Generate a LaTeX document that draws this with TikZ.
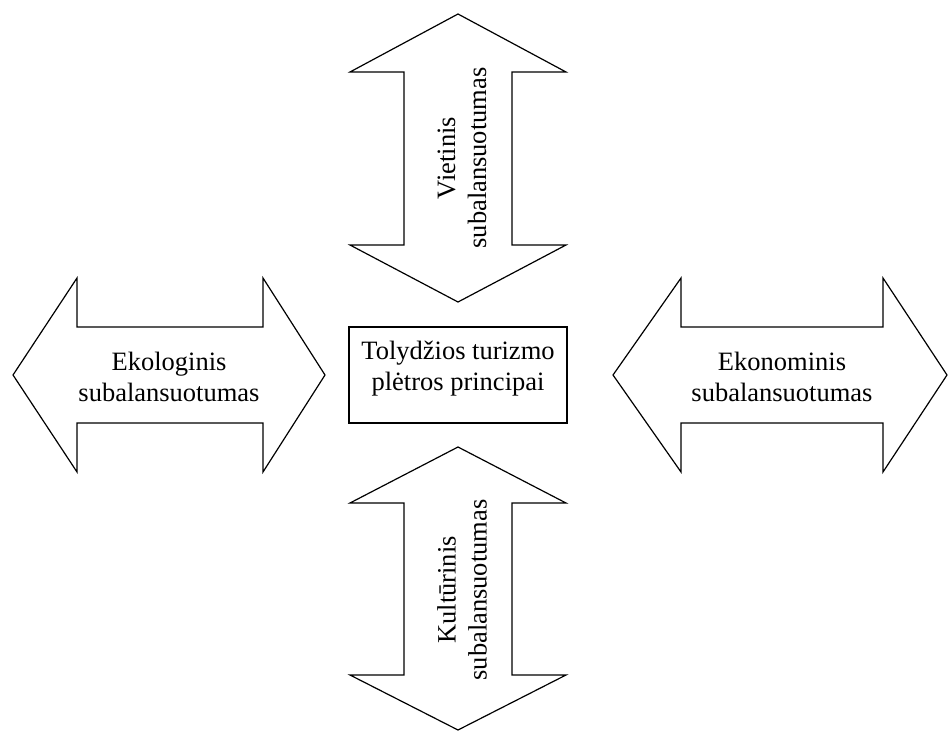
\documentclass[tikz,border=0pt]{standalone}
\usepackage{fontspec}
\setmainfont{Liberation Serif}
\begin{document}
\begin{tikzpicture}[x=1bp,y=-1bp,
  bigarrow/.style={draw=black,line width=1.2bp,line join=miter,fill=white},
  lbl/.style={align=center,inner sep=0pt,font=\fontsize{26.5bp}{31bp}\selectfont},
  centerbox/.style={draw=black,line width=1.9bp,minimum width=218bp,minimum height=96bp,inner sep=0pt}]
\useasboundingbox (0,0) rectangle (949,731);
% top arrow
\draw[bigarrow] (458,14) -- (566,72) -- (512,72) -- (512,245) -- (566,245) -- (458,302)
  -- (350,245) -- (404,245) -- (404,72) -- (350,72) -- cycle;
% bottom arrow
\draw[bigarrow] (458,447) -- (566,503) -- (512,503) -- (512,675) -- (566,675) -- (458,730)
  -- (350,675) -- (404,675) -- (404,503) -- (350,503) -- cycle;
% left arrow
\draw[bigarrow] (13,375) -- (77,278) -- (77,327) -- (263,327) -- (263,278) -- (325,375)
  -- (263,472) -- (263,423) -- (77,423) -- (77,472) -- cycle;
% right arrow
\draw[bigarrow] (613,375) -- (681,278) -- (681,327) -- (883,327) -- (883,278) -- (947,375)
  -- (883,472) -- (883,423) -- (681,423) -- (681,472) -- cycle;
% labels
\node[lbl,rotate=90] (viet) at (462,158) {Vietinis\\subalansuotumas};
\node[lbl,rotate=90] (kult) at (462,590) {Kultūrinis\\subalansuotumas};
\node[lbl] (ekol) at (169,377) {Ekologinis\\subalansuotumas};
\node[lbl] (ekon) at (782,377) {Ekonominis\\subalansuotumas};
\node[centerbox] (center) at (458,375) {};
\node[lbl] (centertext) at (458,369) {Tolydžios turizmo\\plėtros principai};
\end{tikzpicture}
\end{document}
